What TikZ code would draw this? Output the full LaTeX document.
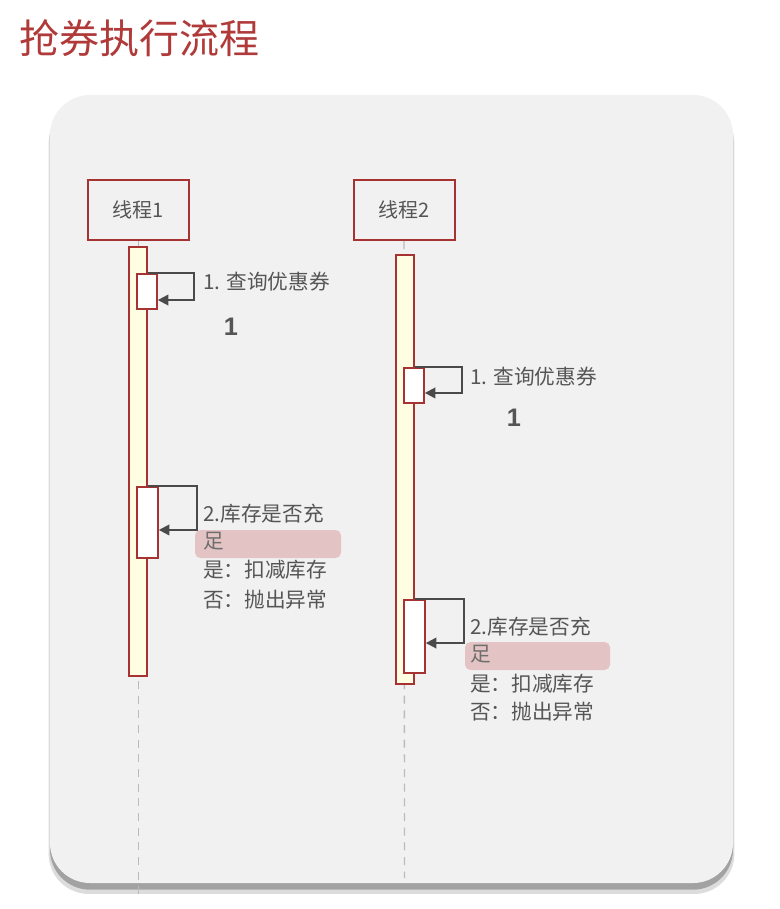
\documentclass[tikz,border=0pt]{standalone}
\usepackage{fontspec}
\setmainfont{Noto Sans CJK SC}
\newfontfamily\numfont{Liberation Sans}
\usetikzlibrary{fit,shadows,arrows.meta}

\begin{document}
\begin{tikzpicture}[x={(0.75pt,0)},y={(0,-0.75pt)}]

% Colori
\definecolor{colRed}{HTML}{A63232}
\definecolor{colTitle}{HTML}{B03A3A}
\definecolor{colPanel}{HTML}{F1F1F1}
\definecolor{colBar}{HTML}{FFFDE2}
\definecolor{colHl}{HTML}{E3C3C3}
\definecolor{colText}{HTML}{555555}
\definecolor{colArrow}{HTML}{4A4A4A}
\definecolor{lineGray}{HTML}{BBBBBB}

\tikzset{
  thread/.style={draw=colRed, line width=1.5pt, fill=colPanel, text=colText,
    minimum width=75.75pt, minimum height=45pt, font=\fontsize{15}{18}\selectfont},
  bar/.style={draw=colRed, line width=1.2pt, fill=colBar, inner sep=0pt},
  act/.style={draw=colRed, line width=1.2pt, fill=white, inner sep=0pt},
  msg/.style={draw=colArrow, line width=1.5pt, -{Triangle[length=8pt,width=8pt]}},
  lifeline/.style={draw=lineGray, line width=1pt, dash pattern=on 6pt off 5pt},
  lbl/.style={anchor=west, inner sep=0pt, text=colText, font=\fontsize{15.5}{18}\selectfont},
  hl/.style={fill=colHl, rounded corners=4pt, inner sep=0pt},
  num/.style={text=colText, font=\numfont\bfseries\fontsize{19}{22}\selectfont}
}

\useasboundingbox (0,0) rectangle (780,909);

% Titolo
\node[anchor=west, inner sep=0pt, text=colTitle, font=\fontsize{30}{36}\selectfont] (title) at (19,38) {抢券执行流程};

% Pannello (con ombra)
\node[fit={(50,95) (733,883)}, inner sep=0pt, rounded corners=30pt, fill=colPanel,
  drop shadow={shadow xshift=0pt, shadow yshift=-7pt, shadow scale=1.004, fill=black!30, opacity=0.45},
  drop shadow={shadow xshift=0pt, shadow yshift=-5pt, fill=black!55, opacity=0.55}] (panel) {};

% Thread
\node[thread] (t1) at (138.5,210) {线程1};
\node[thread] (t2) at (404,210) {线程2};

% Linee di vita
\coordinate (end1) at (138.5,899);
\coordinate (end2) at (404.5,878);
\draw[lifeline] (t1) -- (end1);
\draw[lifeline] (t2) -- (end2);

% Barre di attivazione
\node[bar, fit={(129,247) (147,676)}] (bar1) {};
\node[bar, fit={(396,255) (414,684)}] (bar2) {};

% Thread 1
\node[act, fit={(137,274) (157,309)}] (a11) {};
\draw[msg] (a11.north -| bar1.east) -- ++(46,0) |- ([yshift=-6.4pt]a11.east);
\node[lbl] (q1) at (203,282) {1. 查询优惠券};
\node[num] (n1) at (231,327) {1};

\node[act, fit={(137,487) (158,558)}] (a12) {};
\draw[msg] (a12.north -| bar1.east) -- ++(49,0) |- ([yshift=-5.6pt]a12.east);
\node[hl, fit={(195,530) (341,558)}] (h1) {};
\node[lbl] (c1) at (203,514) {2.库存是否充};
\node[lbl, text=colText!85] (c1b) at (203,541) {足};
\node[lbl] (y1) at (203,570) {是：扣减库存};
\node[lbl] (f1) at (203,600) {否：抛出异常};

% Thread 2
\node[act, fit={(404,368) (424,403)}] (a21) {};
\draw[msg] (a21.north -| bar2.east) -- ++(47,0) |- ([yshift=-5.6pt]a21.east);
\node[lbl] (q2) at (470,377) {1. 查询优惠券};
\node[num] (n2) at (514,418) {1};

\node[act, fit={(404,600) (425,673)}] (a22) {};
\draw[msg] (a22.north -| bar2.east) -- ++(49,0) |- ([yshift=-4.9pt]a22.east);
\node[hl, fit={(465,642) (610,670)}] (h2) {};
\node[lbl] (c2) at (470,627) {2.库存是否充};
\node[lbl, text=colText!85] (c2b) at (470,654) {足};
\node[lbl] (y2) at (470,684) {是：扣减库存};
\node[lbl] (f2) at (470,712) {否：抛出异常};

\end{tikzpicture}
\end{document}
